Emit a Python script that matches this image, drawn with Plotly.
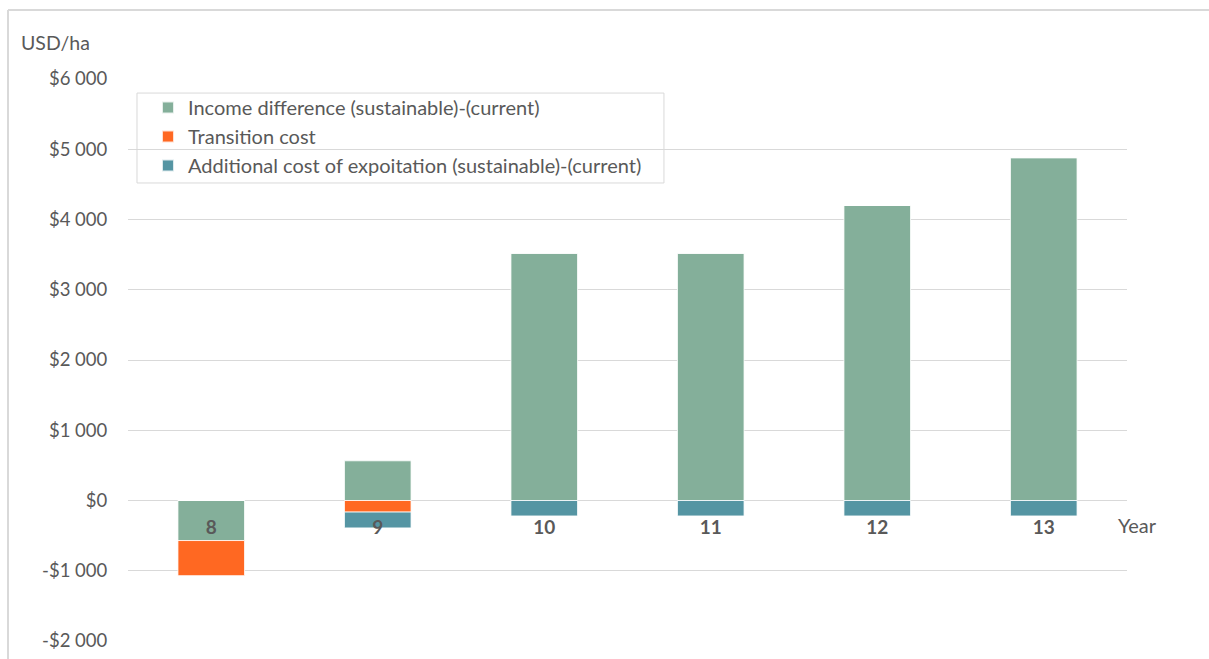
import plotly.graph_objects as go

# Years and per-hectare values (USD/ha)
years = ["8", "9", "10", "11", "12", "13"]
income_difference = [-570, 565, 3520, 3520, 4200, 4880]
transition_cost = [-500, -165, 0, 0, 0, 0]
additional_cost = [0, -225, -220, -220, -220, -220]

series_names = [
    "Income difference (sustainable)-(current)",
    "Transition cost",
    "Additional cost of expoitation (sustainable)-(current)",
]
series_colors = ["#84AF9A", "#FF6822", "#5595A3"]

y_tick_values = [-2000, -1000, 0, 1000, 2000, 3000, 4000, 5000, 6000]
y_tick_labels = ["-$2 000", "-$1 000", "$0", "$1 000", "$2 000",
                 "$3 000", "$4 000", "$5 000", "$6 000"]

FONT = "Lato, Open Sans, sans-serif"
GREY = "#595959"
FRAME = "#D9D9D9"

fig = go.Figure()
for name, values, color in zip(series_names,
                               [income_difference, transition_cost, additional_cost],
                               series_colors):
    fig.add_trace(go.Bar(
        x=years, y=values, name=name,
        marker=dict(color=color, line=dict(color="rgba(255,255,255,0.8)", width=1)),
        width=0.4,
    ))

y_min, y_max = -2000, 6000
zero_pos = (0 - y_min) / (y_max - y_min)

fig.update_layout(
    barmode="relative",
    width=1209, height=659,
    margin=dict(l=128, r=82, t=79, b=18, autoexpand=False),
    paper_bgcolor="white",
    plot_bgcolor="white",
    font=dict(family=FONT, color=GREY, size=18),
    showlegend=True,
    legend=dict(
        x=0.012, y=0.984, xanchor="left", yanchor="top",
        borderwidth=0,
        bgcolor="rgba(0,0,0,0)",
        font=dict(family=FONT, size=20, color=GREY),
        traceorder="normal",
        indentation=8,
        tracegroupgap=0,
        itemsizing="constant",
    ),
    xaxis=dict(
        type="category",
        anchor="free", position=zero_pos,
        automargin=False,
        showgrid=False, zeroline=False, showline=False,
        ticks="outside", ticklen=10, tickcolor="rgba(0,0,0,0)",
        tickfont=dict(family=FONT, size=19, color=GREY, weight="bold"),
    ),
    yaxis=dict(
        range=[y_min, y_max],
        automargin=False,
        tickvals=y_tick_values, ticktext=y_tick_labels,
        showgrid=True, gridcolor=FRAME, gridwidth=1,
        zeroline=True, zerolinecolor=FRAME, zerolinewidth=1,
        showline=False,
        ticks="outside", ticklen=16, tickcolor="rgba(0,0,0,0)",
        tickfont=dict(family=FONT, size=18.5, color=GREY),
    ),
)

# Legend frame
fig.add_shape(type="rect", xref="paper", yref="paper",
              x0=0.009, x1=0.5365, y0=0.815, y1=0.975,
              line=dict(color=FRAME, width=1), fillcolor="rgba(0,0,0,0)",
              layer="above")

# Axis captions
fig.add_annotation(text="USD/ha", xref="paper", yref="paper",
                   x=-0.109, y=1.0658, xanchor="left", yanchor="middle",
                   showarrow=False, font=dict(family=FONT, size=19.5, color=GREY))
fig.add_annotation(text="Year", xref="paper", yref="y",
                   x=0.989, y=0, xanchor="left", yanchor="middle", yshift=-24,
                   showarrow=False, font=dict(family=FONT, size=20, color=GREY))

# Outer chart frame (top and left edges)
fig.add_shape(type="line", xref="paper", yref="paper",
              x0=-0.1201, x1=-0.1201, y0=-0.05, y1=1.1228,
              line=dict(color=FRAME, width=2))
fig.add_shape(type="line", xref="paper", yref="paper",
              x0=-0.1201, x1=1.1, y0=1.1228, y1=1.1228,
              line=dict(color=FRAME, width=2))

fig.write_html("out.html")
